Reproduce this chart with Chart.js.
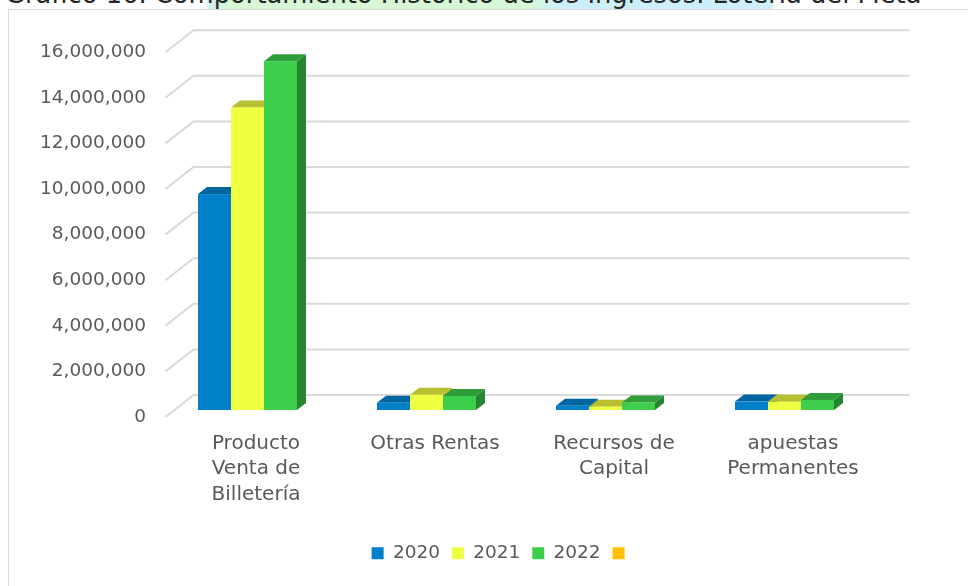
<!DOCTYPE html>
<html>
<head>
<meta charset="utf-8">
<script src="https://cdn.jsdelivr.net/npm/chart.js@4"></script>
<style>
  html, body { margin: 0; padding: 0; background: #ffffff; }
  body { width: 968px; height: 586px; position: relative; overflow: hidden; }
  #frame {
    position: absolute; left: 8px; top: 9px; width: 990px; height: 620px;
    border-left: 1.5px solid #d9d9d9; border-top: 1.5px solid #d9d9d9;
  }
  #hl {
    position: absolute; left: 207px; top: 0; width: 566px; height: 9px;
    background: linear-gradient(to right, #cdeffb 0px, #d7f7d7 22px, #d7f7d7 325px, #cdeffb 352px, #cdeffb 566px);
  }
  #title {
    position: absolute; left: 5px; top: -17px; white-space: nowrap;
    font-family: 'DejaVu Sans', sans-serif; font-size: 22.5px; line-height: 28px; color: #262626;
  }
  #chart { position: absolute; left: 0; top: 0; }
</style>
</head>
<body>
<div id="frame"></div>
<div id="hl"></div>
<div id="title"><span id="titleText">Gráfico 16. Comportamiento Histórico de los Ingresos. Lotería del Meta</span></div>
<canvas id="chart" width="968" height="586"></canvas>
<script>
// Categories and yearly revenue values
const categories = [
  ['Producto', 'Venta de', 'Billetería'],
  'Otras Rentas',
  ['Recursos de', 'Capital'],
  ['apuestas', 'Permanentes']
];
const seriesNames = ['2020', '2021', '2022', ''];
const values2020 = [9470000, 320000, 185000, 370000];
const values2021 = [13270000, 665000, 145000, 360000];
const values2022 = [15300000, 615000, 330000, 440000];
const valuesBlank = [null, null, null, null];
const yTicksMax = 16000000;
const yTicksStep = 2000000;

// Face colours per series: front, top, side
const FRONT = ['#0180ca', '#efff41', '#3dcf4b', '#ffc000'];
const TOP   = ['#01659f', '#b9c030', '#2f9e3a', '#c99700'];
const SIDE  = ['#015a8e', '#a7ad2a', '#258530', '#b38600'];

// Oblique depth offsets (pixels)
const DEPTH_X = 9, DEPTH_Y = 7;     // thickness of each column
const WALL_X = 19, WALL_Y = 15;     // back wall behind the column fronts
const EDGE_X = 9, EDGE_Y = 7;       // front edge of the floor

// Fit the heading to its line and set its baseline
(function placeTitle() {
  const t = document.getElementById('title');
  const span = document.getElementById('titleText');
  const w = span.getBoundingClientRect().width;
  const size = 22.5 * 917 / w;
  t.style.fontSize = size + 'px';
  const probe = document.createElement('span');
  probe.style.display = 'inline-block';
  probe.style.width = '0';
  probe.style.height = '0';
  probe.style.verticalAlign = 'baseline';
  t.appendChild(probe);
  const base = probe.getBoundingClientRect().top - t.getBoundingClientRect().top;
  t.style.top = (2.5 - base) + 'px';
})();

// Draws the perspective walls and the 3-D columns from the bar elements
const columns3d = {
  id: 'columns3d',
  beforeDatasetsDraw(chart) {
    const { ctx, chartArea: a, scales: { y } } = chart;
    ctx.save();
    ctx.strokeStyle = '#d9d9d9';
    ctx.lineWidth = 2;
    y.ticks.forEach(t => {
      const py = y.getPixelForValue(t.value);
      ctx.beginPath();
      ctx.moveTo(a.left - EDGE_X, py + EDGE_Y);
      ctx.lineTo(a.left + WALL_X, py - WALL_Y);
      ctx.lineTo(a.right + WALL_X, py - WALL_Y);
      ctx.stroke();
    });

    const n = chart.data.labels.length;
    for (let c = 0; c < n; c++) {
      chart.data.datasets.forEach((ds, di) => {
        if (ds.data[c] == null) return;
        const el = chart.getDatasetMeta(di).data[c];
        if (!el) return;
        const { x, y: top, base, width } = el.getProps(['x', 'y', 'base', 'width'], true);
        const l = x - width / 2, r = x + width / 2;
        ctx.fillStyle = SIDE[di];
        ctx.beginPath();
        ctx.moveTo(r, top);
        ctx.lineTo(r + DEPTH_X, top - DEPTH_Y);
        ctx.lineTo(r + DEPTH_X, base - DEPTH_Y);
        ctx.lineTo(r, base);
        ctx.closePath();
        ctx.fill();
        ctx.fillStyle = TOP[di];
        ctx.beginPath();
        ctx.moveTo(l, top);
        ctx.lineTo(l + DEPTH_X, top - DEPTH_Y);
        ctx.lineTo(r + DEPTH_X, top - DEPTH_Y);
        ctx.lineTo(r, top);
        ctx.closePath();
        ctx.fill();
        ctx.fillStyle = FRONT[di];
        ctx.fillRect(l, top, width, base - top);
      });
    }
    ctx.restore();
    return false;
  }
};

// Centres the legend row under the plot rather than under the whole canvas
const legendCentre = {
  id: 'legendCentre',
  afterLayout(chart) {
    const lg = chart.legend;
    if (!lg) return;
    lg.left += 57.5;
    lg.right += 57.5;
  }
};

Chart.defaults.font.family = "'DejaVu Sans', sans-serif";
Chart.defaults.color = '#595959';

const seriesValues = [values2020, values2021, values2022, valuesBlank];

new Chart(document.getElementById('chart'), {
  type: 'bar',
  data: {
    labels: categories,
    datasets: seriesNames.map((name, i) => ({
      label: name,
      data: seriesValues[i],
      backgroundColor: FRONT[i],
      borderWidth: 0,
      categoryPercentage: 0.7374,
      barPercentage: 1
    }))
  },
  options: {
    responsive: false,
    animation: false,
    events: [],
    layout: { padding: { left: 0, right: 77.5, top: 45.2, bottom: 13.5 } },
    plugins: {
      title: { display: false },
      tooltip: { enabled: false },
      legend: {
        position: 'bottom',
        labels: {
          boxWidth: 12,
          boxHeight: 12,
          padding: 12,
          color: '#595959',
          font: { size: 18.5 }
        }
      }
    },
    scales: {
      x: {
        grid: { display: false, drawTicks: false },
        border: { display: false },
        afterFit(s) { s.height = 122; },
        ticks: {
          padding: 20.5,
          labelOffset: -8,
          maxRotation: 0,
          minRotation: 0,
          autoSkip: false,
          color: '#595959',
          font: { size: 20, lineHeight: 1.28 }
        }
      },
      y: {
        min: 0,
        max: yTicksMax,
        grid: { display: false, drawTicks: false },
        border: { display: false },
        afterFit(s) { s.width = 174.5; },
        ticks: {
          stepSize: yTicksStep,
          padding: 28.5,
          labelOffset: 7,
          color: '#595959',
          font: { size: 18.5 },
          callback: v => Number(v).toLocaleString('en-US')
        }
      }
    }
  },
  plugins: [columns3d, legendCentre]
});
</script>
</body>
</html>
